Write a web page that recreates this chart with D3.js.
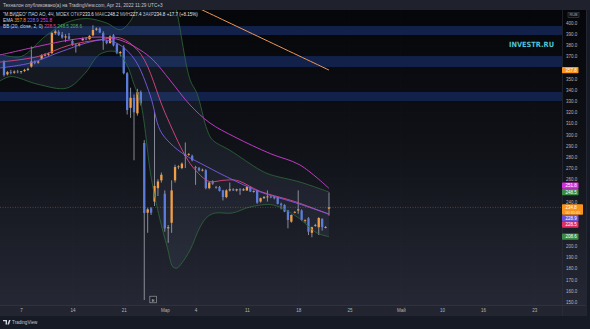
<!DOCTYPE html>
<html>
<head>
<meta charset="utf-8">
<script src="https://cdn.jsdelivr.net/npm/d3@7"></script>
<style>
  body { margin: 0; background: #161a25; overflow: hidden; }
  svg { display: block; font-family: "Liberation Sans", Arial, sans-serif; }
</style>
</head>
<body>
<script>
// 4h candles, [open, high, low, close]
const candles = [
  [365,366.5,352,353.4],[354,357,353,356],[356,358,354,355.5],[355.5,357.5,354.5,356.5],
  [356.5,358,355,356],[356,357,354.5,356.8],[357,359,356,358],[358,360,357,359],
  [361,379,360,365.5],[365,366.5,363,364.5],[364.5,366,363.5,365.5],[368,372,367,371],
  [371,373,370,371.5],[371.5,373.5,370.5,372.5],[373,392,372,391],[391,394,389.5,392.5],
  [392,393.5,388.5,389.5],[389.5,392,386,387],[387,390,383,388],[388,391,385,386],
  [384,385.5,379.5,380.5],[380.5,381.5,373.5,380],[380,382,379,381],[384.5,387,384,386],
  [386,387.5,384.5,385.5],[385.5,389,385,388.5],[389,398,388,393.7],[394,396,393,395],
  [395,396,391,391.5],[391,392.5,376,384],[384,385,381,382],[382,389,381.5,388],
  [389,390,379,380],[381,382,372,373],[373,375,370,374],[378,380,354,355],
  [355,356,318,322],[324,342,315,333],[333,336,277,320],[319,341,317,338],
  [338,339.5,326,328],[292.5,295,151.8,229.7],[230,234.5,212,233],[234,235,228,230],
  [240,320,236,254],[252,260,245,258],[259,266,257,264],[247,250,213,216],
  [216,219,203,217],[221,259,212,250],[259,273,257,271],[271,272.5,269,271.5],
  [270,275,269,274],[281,293,270,282],[282,283.5,281,282.5],[281,282,276,277],
  [271,272,255,270],[270,271,267,268],[268,269.5,267,268.5],[268,269,251,252],
  [252,258,251,257],[258,259,255,256],[253,254,251.5,252.5],[253,254,249,249.5],
  [250,250.5,241,244],[244,251,243,250],[250,257,249,251],[251,252,249.5,250],
  [250,251.5,249,251],[251,252,246,250],[250,252,249.5,251],[250,254,249.5,253],
  [253,253.5,248.5,249],[249,250,248,249.5],[250,250.5,238,239],[240,243.5,239,243],
  [243,245,242.5,244],[244,250,240,244.5],[244.5,245,243,244],[244,245,242,243],
  [244,244.5,237.5,238],[238,239,233,237],[237,237.5,230.5,231],[232,232.5,216,223.5],
  [222,228.5,221,228],[230,231.5,229.5,230.7],[232,250,229,233],[232,233,222.5,223.5],
  [223,224,221,223.5],[225,226,210,213],[212,217.5,208,217],[218.5,220,217.5,219],
  [217,226,210,225.3],[224.5,225,214,217.2],[217,218,216,217.1],[233.6,248.2,227.4,234.8]
];

// indicator lines, [bar index, price]
const ema200 = [[40,437.8],[58,411.6],[95,357.8]];
const ema50 = [[-1.2,371.3],[10.5,379.4],[19.3,384.8],[28.1,387.4],[33.9,384.8],[39.8,375.8],
  [43.6,366.8],[48.5,348.9],[54.4,326.5],[60.2,310.4],[67.5,297.8],[77.8,283],[86.5,272.8],[95,251.8]];
const ema20 = [[-1.2,359.7],[7.6,364.1],[16.4,374],[25.1,383],[29.5,384.8],[33.9,380.3],[38.3,366.8],
  [42.7,335.5],[45.6,304.1],[48.5,292.5],[52.9,281.7],[57.3,274.5],[65.2,262],[74.9,248.6],[84.5,239.6],[95,228.9]];
const bbBasis = [[-1.2,365],[10,370],[19,380],[28,385],[34,386.5],[40,372],[47,320],[53,281],
  [56,268],[60,258],[64,259],[68,259],[75,249],[85,240],[95,228.5]];
const bbUpper = [[-1.2,372],[5,370],[12,388],[18,400],[24,404],[30,400],[34,394],[37,402],[40,425],
  [45,445],[49,430],[50.6,409],[54.4,349],[56.4,337],[59.4,304],[61,295],[66,286],[75,268],[78,264],
  [86.5,257.5],[95,248.5]];
const bbLower = [[-1.2,348],[2,352],[10,345],[18.4,341.7],[23.7,355],[28,372],[33,374],[36,362],
  [38,345],[40,328],[43,262],[45.5,225],[47.7,199.3],[49.4,181.4],[50.6,180.5],[52,185],[54.4,196.6],
  [57.3,217.2],[59.4,226.2],[61.7,229.7],[66.7,229.7],[71.9,235.1],[78.7,236.9],[85.7,226.2],
  [91.5,211.8],[95,208.6]];

// horizontal zones [low, high]
const zones = [[389.2,397.3],[360.6,370.4],[330.1,338.2]];

const priceTicks = [150,160,170,180,190,200,210,220,230,240,250,260,270,280,290,300,310,320,330,340,350,360,370,380,390,400,410];
const timeTickIdx = [5,20,35,47,56,71,86,101,116,128,140,155];
const timeTickLabels = ["7","14","21","Мар","4","11","18","25","Май","10","16","23"];

// price tags on the right axis [value, colour]
const tags = [[357.8,"#f7931e"],[251.8,"#d52fdd"],[248.5,"#3b8a48"],[228.9,"#6f4fd6"],[228.5,"#de2f66"],[208.6,"#3b8a48"]];
const lastPrice = 234.8;
const earningsIdx = 43.6;

const W = 590, H = 329;
const paneR = 562, paneT = 10, paneB = 305, frameR = 586;

const x = d3.scaleLinear().domain([0, candles.length - 1]).range([4, 329]);
const y = d3.scaleLinear().domain([150, 400]).range([302, 23]);

const svg = d3.select("body").append("svg").attr("width", W).attr("height", H);
const defs = svg.append("defs");
const grad = defs.append("linearGradient").attr("id", "bg")
  .attr("x1", 0).attr("y1", 0).attr("x2", 0).attr("y2", 1);
grad.append("stop").attr("offset", "0%").attr("stop-color", "#050609");
grad.append("stop").attr("offset", "45%").attr("stop-color", "#0f1117");
grad.append("stop").attr("offset", "100%").attr("stop-color", "#252834");
defs.append("clipPath").attr("id", "clip").append("rect")
  .attr("x", 0).attr("y", paneT).attr("width", paneR).attr("height", paneB - paneT);

svg.append("rect").attr("width", W).attr("height", H).attr("fill", "#161a25");
svg.append("rect").attr("width", W).attr("height", paneT).attr("fill", "#1f222c");
svg.append("rect").attr("x", 0).attr("y", paneT).attr("width", frameR).attr("height", paneB - paneT)
  .attr("fill", "url(#bg)");
svg.append("rect").attr("x", 0).attr("y", paneB).attr("width", frameR).attr("height", 11)
  .attr("fill", "#22252f");
svg.append("line").attr("x1", 0).attr("x2", frameR).attr("y1", paneB + 0.5).attr("y2", paneB + 0.5)
  .attr("stroke", "#363a45").attr("stroke-width", 0.6);
svg.append("line").attr("x1", paneR + 0.5).attr("x2", paneR + 0.5).attr("y1", paneT).attr("y2", paneB + 11)
  .attr("stroke", "#2d313c").attr("stroke-width", 0.6);
svg.append("line").attr("x1", frameR + 0.5).attr("x2", frameR + 0.5).attr("y1", paneT).attr("y2", paneB + 11)
  .attr("stroke", "#2d313c").attr("stroke-width", 0.6);

const pane = svg.append("g").attr("clip-path", "url(#clip)");

// grid
pane.append("g").selectAll("line").data(priceTicks).join("line")
  .attr("x1", 0).attr("x2", paneR).attr("y1", d => y(d)).attr("y2", d => y(d))
  .attr("stroke", "rgba(255,255,255,0.025)").attr("stroke-width", 0.5);
pane.append("g").selectAll("line").data(timeTickIdx).join("line")
  .attr("x1", d => x(d)).attr("x2", d => x(d)).attr("y1", paneT).attr("y2", paneB)
  .attr("stroke", "rgba(255,255,255,0.025)").attr("stroke-width", 0.5);

// zones
pane.append("g").selectAll("rect").data(zones).join("rect")
  .attr("x", 0).attr("width", paneR)
  .attr("y", d => y(d[1])).attr("height", d => y(d[0]) - y(d[1]))
  .attr("fill", "#11214a");

const line = d3.line().x(d => x(d[0])).y(d => y(d[1])).curve(d3.curveCatmullRom);

// bollinger fill
const upperPath = line(bbUpper);
const lowerPath = line(bbLower.slice().reverse());
pane.append("path").attr("d", upperPath + "L" + lowerPath.slice(1) + "Z")
  .attr("fill", "rgba(130,150,195,0.09)");

// candles
const up = "#f29e45", down = "#5b7dd9";
const cg = pane.append("g");
cg.selectAll("line").data(candles).join("line")
  .attr("x1", (d, i) => x(i)).attr("x2", (d, i) => x(i))
  .attr("y1", d => y(d[1])).attr("y2", d => y(d[2]))
  .attr("stroke", "#b9bcc5").attr("stroke-width", 0.7);
cg.selectAll("rect").data(candles).join("rect")
  .attr("x", (d, i) => x(i) - 1.15).attr("width", 2.3)
  .attr("y", d => y(Math.max(d[0], d[3])))
  .attr("height", d => Math.max(0.8, Math.abs(y(d[0]) - y(d[3]))))
  .attr("fill", d => d[3] >= d[0] ? up : down);

// indicator lines
const lines = [
  [bbUpper, "#2f6a3a", 0.8], [bbLower, "#2f6a3a", 0.8],
  [bbBasis, "#e0457f", 0.9], [ema20, "#7c5ce6", 0.9],
  [ema50, "#cf3fd3", 0.9], [ema200, "#f0995a", 1]
];
lines.forEach(([data, color, w]) => {
  pane.append("path").attr("d", line(data)).attr("fill", "none")
    .attr("stroke", color).attr("stroke-width", w);
});

// last price line
pane.append("line").attr("x1", 0).attr("x2", paneR)
  .attr("y1", y(lastPrice)).attr("y2", y(lastPrice))
  .attr("stroke", "#f7931e").attr("stroke-opacity", 0.55)
  .attr("stroke-width", 0.6).attr("stroke-dasharray", "1,1.5");

// earnings marker
const eg = svg.append("g").attr("transform", `translate(${x(earningsIdx)},300)`);
eg.append("rect").attr("x", -3.3).attr("y", -3.8).attr("width", 6.6).attr("height", 6.6)
  .attr("fill", "#1e212b").attr("stroke", "#a8abb4").attr("stroke-width", 0.6);
eg.append("text").attr("text-anchor", "middle").attr("y", 1.6).attr("font-size", 4.4)
  .attr("fill", "#c8cad0").text("E");

// watermark
svg.append("text").attr("x", 509).attr("y", 46.5).attr("font-size", 7.2).attr("font-weight", "bold")
  .attr("font-family", "DejaVu Sans, sans-serif")
  .attr("textLength", 45).attr("lengthAdjust", "spacingAndGlyphs")
  .attr("fill", "#4fc2d4").text("INVESTR.RU");

// tags with simple collision avoidance around the last-price tag
const tagH = 6.4;
const lpY = y(lastPrice), lpTop = lpY - 3.2, lpBot = lpY + 7.5;
const above = tags.filter(t => t[0] > lastPrice).map(t => ({v: t[0], c: t[1], cy: y(t[0])}))
  .sort((a, b) => b.cy - a.cy);
const below = tags.filter(t => t[0] <= lastPrice).map(t => ({v: t[0], c: t[1], cy: y(t[0])}))
  .sort((a, b) => a.cy - b.cy);
let lim = lpTop;
above.forEach(t => { t.cy = Math.min(t.cy, lim - tagH / 2); lim = t.cy - tagH / 2; });
lim = lpBot;
below.forEach(t => { t.cy = Math.max(t.cy, lim + tagH / 2); lim = t.cy + tagH / 2; });
const allTags = above.concat(below);
const busy = allTags.map(t => [t.cy - tagH / 2, t.cy + tagH / 2]).concat([[lpTop, lpBot], [12, 18]]);

// price axis, labels hidden where a tag sits
const visibleTicks = priceTicks.filter(p => !busy.some(([a, b]) => y(p) + 2.2 > a && y(p) - 2.2 < b));
const yAxis = svg.append("g").attr("transform", `translate(${paneR},0)`)
  .call(d3.axisRight(y).tickValues(visibleTicks).tickFormat(d3.format(".1f")).tickSize(0).tickPadding(4))
  .call(g => g.select(".domain").remove());
yAxis.attr("font-family", null).attr("font-size", null);
yAxis.selectAll("text").attr("font-size", 4.5).attr("fill", "#b2b5be");

// RUB box
svg.append("rect").attr("x", 568).attr("y", 12.5).attr("width", 11).attr("height", 5)
  .attr("fill", "#0b0c10").attr("stroke", "#50535c").attr("stroke-width", 0.5);
svg.append("text").attr("x", 573.5).attr("y", 16.3).attr("text-anchor", "middle")
  .attr("font-size", 3.8).attr("fill", "#b2b5be").text("RUB");

const tg = svg.append("g");
allTags.forEach(t => {
  tg.append("rect").attr("x", paneR).attr("y", t.cy - tagH / 2).attr("width", 16.5).attr("height", tagH)
    .attr("rx", 0.8).attr("fill", t.c);
  tg.append("text").attr("x", 565.5).attr("y", t.cy + 1.6).attr("font-size", 4.5)
    .attr("fill", "#ffffff").text(t.v.toFixed(1));
});
tg.append("rect").attr("x", paneR).attr("y", lpTop).attr("width", 21).attr("height", lpBot - lpTop)
  .attr("rx", 0.8).attr("fill", "#f7931e");
tg.append("text").attr("x", 565.5).attr("y", lpY + 1.6).attr("font-size", 4.5)
  .attr("fill", "#ffffff").text(lastPrice.toFixed(1));
tg.append("text").attr("x", 565.5).attr("y", lpY + 6.2).attr("font-size", 3.8)
  .attr("fill", "#fff3e0").text("00:31:05");

// time axis
const xAxis = svg.append("g").attr("transform", `translate(0,${paneB})`)
  .call(d3.axisBottom(x).tickValues(timeTickIdx).tickFormat((d, i) => timeTickLabels[i]).tickSize(0).tickPadding(3.8))
  .call(g => g.select(".domain").remove());
xAxis.attr("font-family", null).attr("font-size", null);
xAxis.selectAll("text").attr("font-size", 4.5).attr("fill", "#b2b5be");

// header and legend
svg.append("text").attr("x", 3).attr("y", 6.6).attr("font-size", 4.7).attr("fill", "#c3c6ce")
  .text("Техналон опубликовано(а) на TradingView.com, Apr 21, 2022 11:29 UTC+3");

const legend = svg.append("g").attr("font-size", 4.5);
const l1 = legend.append("text").attr("x", 3).attr("y", 16).attr("fill", "#d1d4dc");
l1.append("tspan").text("\"М.ВИДЕО\" ПАО АО, 4Ч, MOEX ");
[["ОТКР", "233.6"], ["МАКС", "248.2"], ["МИН", "227.4"], ["ЗАКР", "234.8"]].forEach(([k, v]) => {
  l1.append("tspan").attr("fill", "#b2b5be").text(" " + k);
  l1.append("tspan").attr("fill", "#e4e6eb").text(v);
});
l1.append("tspan").attr("fill", "#e4e6eb").text(" +17.7 (+8.15%)");

const l2 = legend.append("text").attr("x", 3).attr("y", 22).attr("fill", "#d1d4dc").attr("font-size", 4.7);
l2.append("tspan").text("EMA  ");
l2.append("tspan").attr("fill", "#f7931e").text("357.8 ");
l2.append("tspan").attr("fill", "#8a6cf0").text(" 228.9 ");
l2.append("tspan").attr("fill", "#e040e6").text(" 251.8");

const l3 = legend.append("text").attr("x", 3).attr("y", 28).attr("fill", "#d1d4dc").attr("font-size", 4.7);
l3.append("tspan").text("BB (20, close, 2, 0)  ");
l3.append("tspan").attr("fill", "#e8457f").text("228.5 ");
l3.append("tspan").attr("fill", "#4caf50").text(" 248.5 ");
l3.append("tspan").attr("fill", "#4caf50").text(" 208.6");

// footer
const ft = svg.append("g").attr("transform", "translate(3,320)");
ft.append("path").attr("d", "M0,0H4V4.5H2.6V1.3H0Z M4.4,4.5L6,0H7.6L6,4.5Z").attr("fill", "#d1d4dc");
ft.append("text").attr("x", 9).attr("y", 4.2).attr("font-size", 4.6).attr("fill", "#c3c6ce").text("TradingView");
</script>
</body>
</html>
